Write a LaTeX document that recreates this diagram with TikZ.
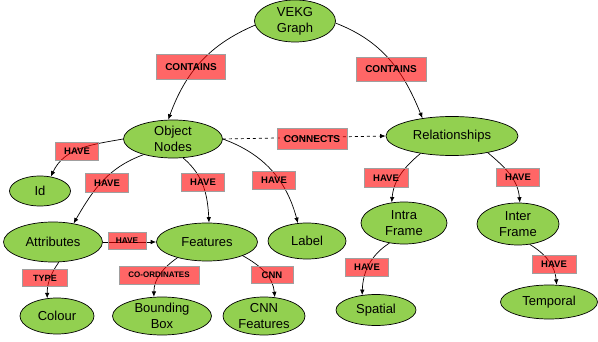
\documentclass[tikz,border=0pt]{standalone}
\usepackage{fontspec}
\setmainfont{Liberation Sans}
\usetikzlibrary{shapes.geometric,arrows,arrows.meta,positioning}
\definecolor{vgreen}{RGB}{146,208,80}
\tikzset{
  entity/.style={ellipse,draw=black,line width=0.7pt,fill=vgreen,inner sep=0pt,
    align=center,font=\fontsize{13}{16}\selectfont},
  relbox/.style={rectangle,draw=gray!75,line width=0.8pt,fill=red,fill opacity=0.6,
    text opacity=1,inner sep=0pt,font=\bfseries\fontsize{9.5}{11}\selectfont},
  link/.style={-{Latex[length=5.5pt,width=4.5pt]},line width=0.7pt},
}

\begin{document}
\begin{tikzpicture}[x=1pt,y=1pt]
%
\useasboundingbox (0,0) rectangle (598,341);
%
\node[entity,minimum width=81,minimum height=42] (vekg) at (295,320) {VEKG\\Graph};
\node[entity,minimum width=99,minimum height=38] (obj) at (173,202) {Object\\Nodes};
\node[entity,minimum width=132,minimum height=39] (rel) at (452,205) {Relationships};
\node[entity,minimum width=61,minimum height=30] (id) at (40,150) {Id};
\node[entity,minimum width=99,minimum height=40] (attr) at (53,99) {Attributes};
\node[entity,minimum width=101,minimum height=38] (feat) at (207,99) {Features};
\node[entity,minimum width=78,minimum height=36] (label) at (307,100) {Label};
\node[entity,minimum width=74,minimum height=36] (colour) at (57,25) {Colour};
\node[entity,minimum width=99,minimum height=38] (bbox) at (162,25) {Bounding\\Box};
\node[entity,minimum width=82,minimum height=38] (cnnf) at (264,25) {CNN\\Features};
\node[entity,minimum width=86,minimum height=42] (intra) at (404,118) {Intra\\Frame};
\node[entity,minimum width=82,minimum height=42] (inter) at (518,117) {Inter\\Frame};
\node[entity,minimum width=80,minimum height=31] (spatial) at (376,31) {Spatial};
\node[entity,minimum width=97,minimum height=34] (temporal) at (549,39) {Temporal};
%
\draw[link] (vekg.186) to[out=203,in=70] (obj.104);
\draw[link] (vekg.357) to[out=-21,in=112] (rel.149);
\draw[link,dashed] (obj.east) -- (rel.west);
\draw[link] (obj.west) to[out=190,in=65] (id.53);
\draw[link] (obj.208) to[out=200,in=60] (attr.42);
\draw[link] (obj.298) to[out=-40,in=93] (feat.84);
\draw[link] (obj.east) to[out=-20,in=105] (label.117);
\draw[link] (rel.209) to[out=220,in=85] (intra.121);
\draw[link] (rel.335) to[out=-40,in=95] (inter.85);
\draw[link] (attr.east) -- (feat.west);
\draw[link] (attr.286) to[out=235,in=90] (colour.119);
\draw[link] (feat.208) to[out=215,in=90] (bbox.113);
\draw[link] (feat.339) to[out=-29,in=95] (cnnf.60);
\draw[link] (intra.234) to[out=213,in=88] (spatial.133);
\draw[link] (inter.300) to[out=-31,in=95] (temporal.66);
%
\node[relbox,minimum width=69,minimum height=25,font=\bfseries\fontsize{10}{12}\selectfont] (contl) at (191,274) {CONTAINS};
\node[relbox,minimum width=70,minimum height=24,font=\bfseries\fontsize{10}{12}\selectfont] (contr) at (391,272) {CONTAINS};
\node[relbox,minimum width=70,minimum height=21,font=\bfseries\fontsize{10}{12}\selectfont] (conn) at (312,202) {CONNECTS};
\node[relbox,minimum width=43,minimum height=18] (hid) at (77,190) {HAVE};
\node[relbox,minimum width=43,minimum height=19] (hattr) at (107,158) {HAVE};
\node[relbox,minimum width=43,minimum height=18] (hfeat) at (203,159) {HAVE};
\node[relbox,minimum width=43,minimum height=18] (hlabel) at (274,161) {HAVE};
\node[relbox,minimum width=38,minimum height=17,font=\bfseries\fontsize{8.3}{10}\selectfont] (haf) at (127,100) {HAVE};
\node[relbox,minimum width=45,minimum height=17,font=\bfseries\fontsize{9}{10}\selectfont] (type) at (45,63) {TYPE};
\node[relbox,minimum width=80,minimum height=18,font=\bfseries\fontsize{8}{10}\selectfont] (coord) at (159,66) {CO-ORDINATES};
\node[relbox,minimum width=42,minimum height=17] (cnn) at (272,66) {CNN};
\node[relbox,minimum width=44,minimum height=19] (hintra) at (386,163) {HAVE};
\node[relbox,minimum width=43,minimum height=18] (hinter) at (518,164) {HAVE};
\node[relbox,minimum width=43,minimum height=18] (hspat) at (367,74) {HAVE};
\node[relbox,minimum width=44,minimum height=18] (htemp) at (554,77) {HAVE};
%
\end{tikzpicture}
\end{document}
